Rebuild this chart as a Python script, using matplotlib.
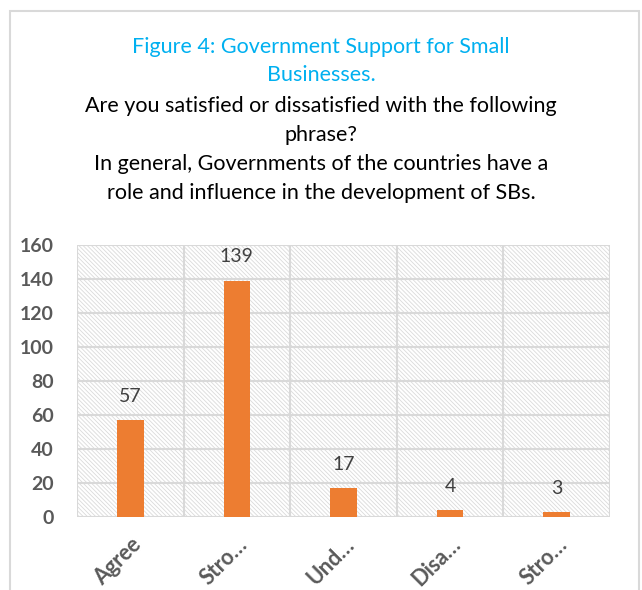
import matplotlib
matplotlib.use("Agg")
import matplotlib.pyplot as plt
from matplotlib.patches import Rectangle
from matplotlib.transforms import ScaledTranslation

categories = ["Agree", "Stro…", "Und…", "Disa…", "Stro…"]
counts = [57, 139, 17, 4, 3]
y_ticks = [0, 20, 40, 60, 80, 100, 120, 140, 160]

plt.rcParams["font.family"] = ["Lato", "DejaVu Sans"]
plt.rcParams["hatch.color"] = "#dadada"
plt.rcParams["hatch.linewidth"] = 0.6

W, H = 642, 590
fig = plt.figure(figsize=(W / 100, H / 100), dpi=100)

# outer chart frame
fig.patches.append(Rectangle((9.5 / W, -0.05), (639 - 9.5) / W, 1.05 - 10.5 / H,
                             transform=fig.transFigure, fill=False,
                             edgecolor="#d9d9d9", linewidth=1.5))

# titles
fig.text(0.5, 1 - 47 / H, "Figure 4: Government Support for Small",
         ha="center", va="center", color="#00b0f0", fontsize=15.5)
fig.text(0.5, 1 - 75 / H, "Businesses.",
         ha="center", va="center", color="#00b0f0", fontsize=15.5)
sub = ["Are you satisfied or dissatisfied with the following",
       "phrase?",
       "In general, Governments of the countries have a",
       "role and influence in the development of SBs."]
for i, line in enumerate(sub):
    fig.text(0.5, 1 - (106 + i * 29) / H, line, ha="center", va="center",
             color="black", fontsize=15.5)

left, right, top, bottom = 77, 610, 245, 517
ax = fig.add_axes([left / W, 1 - bottom / H, (right - left) / W, (bottom - top) / H])
ax.set_xlim(-0.5, len(categories) - 0.5)
ax.set_ylim(0, 160)

# hatched plot background
ax.add_patch(Rectangle((0, 0), 1, 1, transform=ax.transAxes, facecolor="white",
                       hatch="\\" * 8, edgecolor="#dadada", linewidth=0, zorder=0))
ax.set_facecolor("none")

for y in y_ticks:
    ax.axhline(y, color="#d9d9d9", linewidth=1.5, zorder=1)
for x in range(len(categories) + 1):
    ax.axvline(x - 0.5, color="#d9d9d9", linewidth=1.5, zorder=1)

x = list(range(len(categories)))
ax.bar(x, counts, width=0.25, color="#ed7d31", zorder=3)
for xi, v in zip(x, counts):
    ax.text(xi, v + 9, str(v), ha="center", va="bottom", color="#404040",
            fontsize=14)

for s in ax.spines.values():
    s.set_visible(False)

ax.set_yticks(y_ticks)
ax.set_yticklabels([str(t) for t in y_ticks], fontsize=14, fontweight="bold",
                   color="#595959")
ax.set_xticks(x)
ax.set_xticklabels(categories, rotation=45, ha="right", rotation_mode="anchor",
                   fontsize=15.5, fontweight="bold", color="#595959")
shift = ScaledTranslation(-9 / 100, -7 / 100, fig.dpi_scale_trans)
for lbl in ax.get_xticklabels():
    lbl.set_transform(lbl.get_transform() + shift)
ax.tick_params(length=0, axis="y", pad=17)
ax.tick_params(length=0, axis="x", pad=12)

fig.savefig("out.png", dpi=100)
